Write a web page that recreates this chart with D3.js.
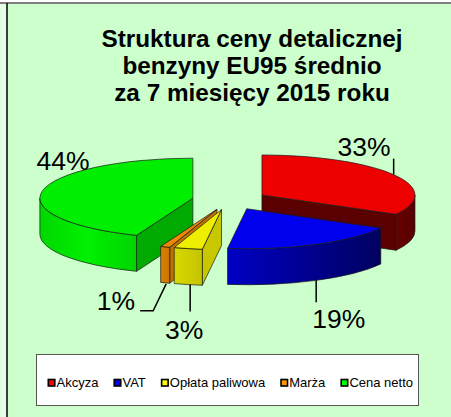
<!DOCTYPE html>
<html>
<head>
<meta charset="utf-8">
<script src="https://cdn.jsdelivr.net/npm/d3@7"></script>
<style>
  html, body { margin: 0; padding: 0; background: #fff; }
  svg { display: block; font-family: "Liberation Sans", Arial, sans-serif; }
</style>
</head>
<body>
<div id="chart"></div>
<script>
// data
const categories = ['Akcyza', 'VAT', 'Opłata paliwowa', 'Marża', 'Cena netto'];
const values = [33, 19, 3, 1, 44];
const labels = ['33%', '19%', '3%', '1%', '44%'];
const titleLines = ['Struktura ceny detalicznej', 'benzyny EU95 średnio', 'za 7 miesięcy 2015 roku'];

// colours
const topColors = ['#ee0000', '#0000ee', '#eeee00', '#ee8800', '#00ee00'];
const radialColors = ['#5a0000', '#000070', '#c8c800', '#c07000', '#00aa00'];
const rimStops = [
  ['#6a0000', '#560000'],
  ['#0000c4', '#000060'],
  ['#d8d800', '#c4c400'],
  ['#dc8200', '#c87400'],
  ['#00d800', '#00f000', '#00d400']
];
const legendColors = ['#ff0000', '#0000ff', '#ffff00', '#ff9900', '#00ff00'];

const W = 451, H = 417;
const cx = 229.7, cy = 200, rx = 153, ry = 40, depth = 36, explode = 0.245;

const svg = d3.select('#chart').append('svg')
  .attr('width', W).attr('height', H);
const defs = svg.append('defs');

// background frame
svg.append('rect').attr('x', 0).attr('y', 0).attr('width', W).attr('height', H).attr('fill', '#e4ffe4');
svg.append('rect').attr('x', 7).attr('y', 3).attr('width', W - 7).attr('height', H - 3).attr('fill', '#ccffcc');
svg.append('rect').attr('x', 0).attr('y', 0).attr('width', W).attr('height', 2).attr('fill', '#fff');
svg.append('line').attr('x1', 0).attr('x2', W).attr('y1', 3).attr('y2', 3)
  .attr('stroke', '#7f7f7f').attr('stroke-width', 2);
svg.append('line').attr('x1', 7).attr('x2', 7).attr('y1', 3).attr('y2', H)
  .attr('stroke', '#000').attr('stroke-width', 1.5);

// title
svg.append('text')
  .attr('x', 252).attr('y', 47)
  .attr('text-anchor', 'middle')
  .style('font-size', '24.3px').style('font-weight', 'bold')
  .selectAll('tspan').data(titleLines).enter().append('tspan')
  .attr('x', 252).attr('dy', (d, i) => i === 0 ? 0 : 27)
  .text(d => d);

// pie geometry
const pie = d3.pie().sort(null).value(d => d);
const arcs = pie(values);
const P = a => [rx * Math.sin(a), -ry * Math.cos(a)];

const slices = arcs.map((a, i) => {
  const mid = (a.startAngle + a.endAngle) / 2;
  const off = P(mid);
  const vx = cx + explode * off[0], vy = cy + explode * off[1];
  return { i, a0: a.startAngle, a1: a.endAngle, mid, vx, vy };
});

const pt = (s, a, dy = 0) => {
  const p = P(a);
  return [s.vx + p[0], s.vy + p[1] + dy];
};

function topPath(s) {
  const p0 = pt(s, s.a0), p1 = pt(s, s.a1);
  const large = (s.a1 - s.a0) > Math.PI ? 1 : 0;
  return `M${s.vx},${s.vy}L${p0}A${rx},${ry} 0 ${large} 1 ${p1}Z`;
}
function rimPath(s, a, b) {
  const p0 = pt(s, a), p1 = pt(s, b), q1 = pt(s, b, depth), q0 = pt(s, a, depth);
  return `M${p0}A${rx},${ry} 0 0 1 ${p1}L${q1}A${rx},${ry} 0 0 0 ${q0}Z`;
}
function radialPath(s, a) {
  const p = pt(s, a);
  return `M${s.vx},${s.vy}L${p}L${p[0]},${p[1] + depth}L${s.vx},${s.vy + depth}Z`;
}

// draw order: back to front by mid rim y
const order = slices.slice().sort((u, v) => pt(u, u.mid)[1] - pt(v, v.mid)[1]);
const edge = { stroke: '#1a1a1a', width: 0.7 };

order.forEach(s => {
  const g = svg.append('g');
  // radial faces
  if (Math.sin(s.a0) < -1e-6) {
    g.append('path').attr('d', radialPath(s, s.a0)).attr('fill', radialColors[s.i])
      .attr('stroke', edge.stroke).attr('stroke-width', edge.width).attr('stroke-linejoin', 'round');
  }
  if (Math.sin(s.a1) > 1e-6) {
    g.append('path').attr('d', radialPath(s, s.a1)).attr('fill', radialColors[s.i])
      .attr('stroke', edge.stroke).attr('stroke-width', edge.width).attr('stroke-linejoin', 'round');
  }
  // outer rim
  const ra = Math.max(s.a0, Math.PI / 2), rb = Math.min(s.a1, 3 * Math.PI / 2);
  if (ra < rb) {
    const xa = pt(s, ra)[0], xb = pt(s, rb)[0];
    const gid = 'rim' + s.i;
    const grad = defs.append('linearGradient').attr('id', gid)
      .attr('gradientUnits', 'userSpaceOnUse')
      .attr('x1', Math.min(xa, xb)).attr('x2', Math.max(xa, xb)).attr('y1', 0).attr('y2', 0);
    const stops = rimStops[s.i];
    stops.forEach((c, k) => grad.append('stop')
      .attr('offset', stops.length === 1 ? 0 : k / (stops.length - 1)).attr('stop-color', c));
    g.append('path').attr('d', rimPath(s, ra, rb)).attr('fill', `url(#${gid})`)
      .attr('stroke', edge.stroke).attr('stroke-width', edge.width).attr('stroke-linejoin', 'round');
  }
  // top face
  g.append('path').attr('d', topPath(s)).attr('fill', topColors[s.i])
    .attr('stroke', edge.stroke).attr('stroke-width', edge.width).attr('stroke-linejoin', 'round');
});

// data labels with leader lines (offsets relative to slice rim point)
const labelLayout = [
  { face: 'top', leader: [[0, 0], [0, -16]], text: [-3, -19], anchor: 'end' },
  { face: 'bottom', leader: [[0, 0], [0, 22]], text: [-4, 48], anchor: 'start' },
  { face: 'bottom', leader: [[2, 0], [2, 27]], text: [-4, 54], anchor: 'middle' },
  { face: 'bottom', leader: [[1, 1], [-12, 28], [-25, 28]], text: [-30, 27], anchor: 'end' },
  { face: 'top', leader: [], text: [-6, -21], anchor: 'start' }
];

slices.forEach(s => {
  const lay = labelLayout[s.i];
  const base = pt(s, s.mid, lay.face === 'bottom' ? depth : 0);
  if (lay.leader.length) {
    svg.append('path')
      .attr('d', d3.line()(lay.leader.map(o => [base[0] + o[0], base[1] + o[1]])))
      .attr('fill', 'none').attr('stroke', '#000').attr('stroke-width', 1.5);
  }
  svg.append('text')
    .attr('x', base[0] + lay.text[0]).attr('y', base[1] + lay.text[1])
    .attr('text-anchor', lay.anchor)
    .style('font-size', '26.5px')
    .text(labels[s.i]);
});

// legend
const legend = svg.append('g');
legend.append('rect').attr('x', 36.5).attr('y', 354.5).attr('width', 382).attr('height', 51)
  .attr('fill', '#fff').attr('stroke', '#555').attr('stroke-width', 1);

const items = legend.selectAll('g.item').data(categories).enter().append('g').attr('class', 'item');
items.append('rect')
  .attr('width', 6.5).attr('height', 6.5).attr('y', 379.5)
  .attr('fill', (d, i) => legendColors[i]).attr('stroke', '#000').attr('stroke-width', 1.6);
items.append('text')
  .attr('y', 387).style('font-size', '13px')
  .text(d => d);

// lay legend items left to right, filling the row from x0 to x1
const x0 = 47.5, x1 = 413, mark = 9;
let widths = [];
items.select('text').each(function () { widths.push(this.getComputedTextLength()); });
const spacing = (x1 - x0 - d3.sum(widths) - categories.length * mark) / (categories.length - 1);
let x = x0;
items.each(function (d, i) {
  const it = d3.select(this);
  it.select('rect').attr('x', x + 0.8);
  it.select('text').attr('x', x + mark);
  x += mark + widths[i] + spacing;
});
</script>
</body>
</html>
